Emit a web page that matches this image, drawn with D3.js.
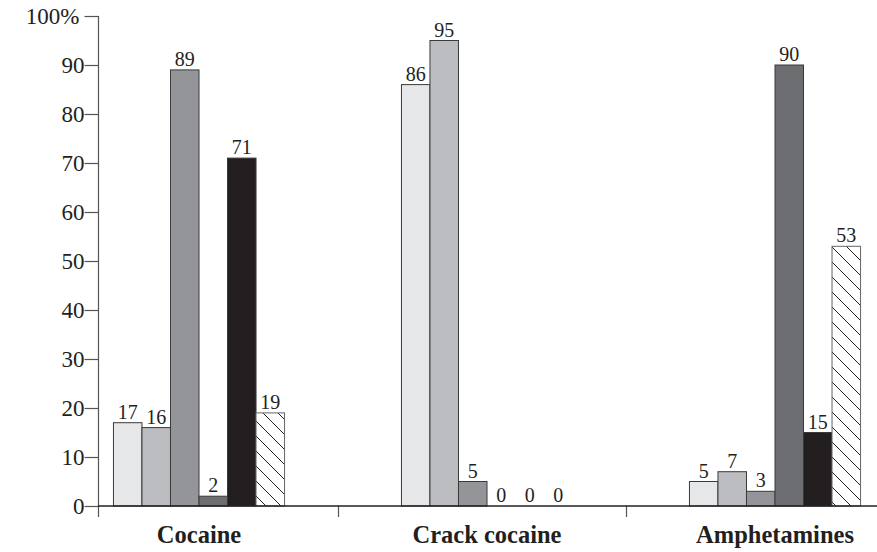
<!DOCTYPE html>
<html>
<head>
<meta charset="utf-8">
<script src="https://cdn.jsdelivr.net/npm/d3@7"></script>
<style>
  body { margin: 0; background: #fff; }
  svg { display: block; }
</style>
</head>
<body>
<div id="chart"></div>
<script>
// data
var categories = ['Cocaine', 'Crack cocaine', 'Amphetamines'];
var series = ['s1', 's2', 's3', 's4', 's5', 's6'];
var cocaine = [17, 16, 89, 2, 71, 19];
var crack = [86, 95, 5, 0, 0, 0];
var amphetamines = [5, 7, 3, 90, 15, 53];
var yTicks = [0, 10, 20, 30, 40, 50, 60, 70, 80, 90, 100];

var colors = ['#e6e7e8', '#bcbdc0', '#939598', '#6d6e71', '#231f20', 'url(#hatch)'];

var rows = [cocaine, crack, amphetamines];
var data = [];
categories.forEach(function (c, i) {
  series.forEach(function (s, j) {
    data.push({ cat: c, key: s, idx: j, value: rows[i][j] });
  });
});

var width = 877,
  height = 552;

var svg = d3
  .select('#chart')
  .append('svg')
  .attr('width', width)
  .attr('height', height);

// hatch pattern for the last series
var pat = svg
  .append('defs')
  .append('pattern')
  .attr('id', 'hatch')
  .attr('patternUnits', 'userSpaceOnUse')
  .attr('width', 15)
  .attr('height', 15);
pat.append('rect').attr('width', 15).attr('height', 15).attr('fill', '#fff');
pat
  .append('path')
  .attr('d', 'M-1,-1 L16,16 M-8,7 L1,16 M7,-8 L16,1')
  .attr('stroke', '#231f20')
  .attr('stroke-width', 1);

// scales
var y = d3.scaleLinear().domain([0, 100]).range([506, 16]);

var x0 = d3.scaleBand().domain(categories).range([55, 919]);

var x1 = d3
  .scaleBand()
  .domain(series)
  .range([0, x0.bandwidth()])
  .paddingOuter(2.05);

var font = "'Liberation Serif', 'Times New Roman', serif";

// Y axis
var yAxis = svg
  .append('g')
  .attr('transform', 'translate(98.5,0)')
  .call(
    d3
      .axisLeft(y)
      .tickValues(yTicks)
      .tickSize(14)
      .tickSizeOuter(0)
      .tickPadding(14)
      .tickFormat(function (d) {
        return d === 100 ? '100%' : d;
      })
  );
yAxis.select('.domain').remove();
yAxis.selectAll('.tick line').attr('stroke', '#555').attr('stroke-width', 1.2);
yAxis
  .selectAll('.tick text')
  .attr('fill', '#231f20')
  .style('font-family', font)
  .style('font-size', '23px')
  .attr('dy', '0.33em')
  .attr('x', function (d) {
    return d === 100 ? -19 : -14;
  });

// vertical axis line, running a bit below the baseline
svg
  .append('line')
  .attr('x1', 98.5)
  .attr('x2', 98.5)
  .attr('y1', y(100))
  .attr('y2', y(0) + 11)
  .attr('stroke', '#555')
  .attr('stroke-width', 1.2);

// category separators
categories.slice(1).forEach(function (c) {
  svg
    .append('line')
    .attr('x1', x0(c) - 4.5)
    .attr('x2', x0(c) - 4.5)
    .attr('y1', y(0))
    .attr('y2', y(0) + 11)
    .attr('stroke', '#555')
    .attr('stroke-width', 1.2);
});

// bars
svg
  .append('g')
  .selectAll('rect')
  .data(
    data.filter(function (d) {
      return d.value > 0;
    })
  )
  .enter()
  .append('rect')
  .attr('x', function (d) {
    return x0(d.cat) + x1(d.key);
  })
  .attr('y', function (d) {
    return y(d.value);
  })
  .attr('width', x1.bandwidth())
  .attr('height', function (d) {
    return y(0) - y(d.value);
  })
  .attr('fill', function (d) {
    return colors[d.idx];
  })
  .attr('stroke', function (d) {
    return d.idx === 5 ? '#666' : '#3a3a3a';
  })
  .attr('stroke-width', 1);

// baseline
svg
  .append('line')
  .attr('x1', 98)
  .attr('x2', width)
  .attr('y1', y(0))
  .attr('y2', y(0))
  .attr('stroke', '#231f20')
  .attr('stroke-width', 1.4);

// value labels
svg
  .append('g')
  .selectAll('text')
  .data(data)
  .enter()
  .append('text')
  .attr('x', function (d) {
    return x0(d.cat) + x1(d.key) + x1.bandwidth() / 2;
  })
  .attr('y', function (d) {
    return y(d.value) - 4;
  })
  .attr('text-anchor', 'middle')
  .attr('fill', '#231f20')
  .style('font-family', font)
  .style('font-size', '20px')
  .text(function (d) {
    return d.value;
  });

// category labels
svg
  .append('g')
  .selectAll('text')
  .data(categories)
  .enter()
  .append('text')
  .attr('x', function (d) {
    return x0(d) + x0.bandwidth() / 2;
  })
  .attr('y', 543)
  .attr('text-anchor', 'middle')
  .attr('fill', '#231f20')
  .style('font-family', font)
  .style('font-weight', 'bold')
  .style('font-size', '24.5px')
  .text(function (d) {
    return d;
  });
</script>
</body>
</html>
